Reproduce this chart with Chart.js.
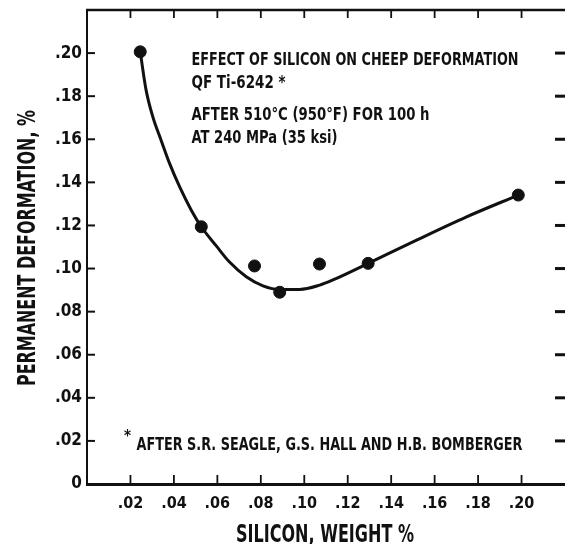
<!DOCTYPE html>
<html>
<head>
<meta charset="utf-8">
<script src="https://cdn.jsdelivr.net/npm/chart.js@4"></script>
<style>
  html, body { margin: 0; padding: 0; background: #fff; }
  #wrap { width: 565px; height: 544px; }
</style>
</head>
<body>
<div id="wrap"><canvas id="c" width="565" height="544"></canvas></div>
<script>
// ---- data ----
const siliconPct = [0.0245, 0.0526, 0.0771, 0.0887, 0.1070, 0.1294, 0.1985];
const deformationPct = [0.2006, 0.1194, 0.1012, 0.0890, 0.1021, 0.1024, 0.1341];

const curveSilicon = [0.0245, 0.0272, 0.0303, 0.0341, 0.0380, 0.0426, 0.0480, 0.0526, 0.0595, 0.0656,
                      0.0733, 0.0810, 0.0887, 0.0979, 0.1071, 0.1132, 0.1294, 0.1517, 0.1747, 0.1985];
const curveDeformation = [0.2006, 0.1828, 0.1704, 0.1596, 0.1488, 0.1380, 0.1271, 0.1194, 0.1105, 0.1030,
                          0.0962, 0.0920, 0.0903, 0.0903, 0.0923, 0.0947, 0.1024, 0.1132, 0.1240, 0.1341];

const xTickValues = [0.02, 0.04, 0.06, 0.08, 0.10, 0.12, 0.14, 0.16, 0.18, 0.20];
const xTickLabels = ['.02', '.04', '.06', '.08', '.10', '.12', '.14', '.16', '.18', '.20'];
const yTickValues = [0, 0.02, 0.04, 0.06, 0.08, 0.10, 0.12, 0.14, 0.16, 0.18, 0.20];
const yTickLabels = ['0', '.02', '.04', '.06', '.08', '.10', '.12', '.14', '.16', '.18', '.20'];

const xTitle = 'SILICON, WEIGHT %';
const yTitle = 'PERMANENT DEFORMATION, %';
const noteLines = [
  'EFFECT OF SILICON ON CHEEP DEFORMATION',
  'QF Ti-6242 *',
  'AFTER 510°C (950°F) FOR 100 h',
  'AT 240 MPa (35 ksi)'
];
const footnote = 'AFTER S.R. SEAGLE, G.S. HALL AND H.B. BOMBERGER';

// ---- helpers ----
const INK = '#111';
function fitText(ctx, text, x, y, cap, width, rot) {
  const size = cap / 0.73;
  ctx.save();
  ctx.font = 'bold ' + size + 'px "DejaVu Sans"';
  ctx.fillStyle = INK;
  ctx.textBaseline = 'alphabetic';
  ctx.textAlign = 'left';
  const w = ctx.measureText(text).width;
  ctx.translate(x, y);
  if (rot) ctx.rotate(rot);
  ctx.scale(width / w, 1);
  ctx.fillText(text, 0, 0);
  ctx.restore();
}

const framePlugin = {
  id: 'frame',
  afterDraw(chart) {
    const ctx = chart.ctx;
    const a = chart.chartArea;
    const xs = chart.scales.x, ys = chart.scales.y;
    ctx.save();
    ctx.strokeStyle = INK;
    ctx.lineCap = 'butt';
    // top border
    ctx.lineWidth = 2.5;
    ctx.beginPath(); ctx.moveTo(a.left - 1, a.top); ctx.lineTo(a.right, a.top); ctx.stroke();
    // x ticks (inward, bottom and top)
    ctx.lineWidth = 1.8;
    xTickValues.forEach(v => {
      const px = xs.getPixelForValue(v);
      ctx.beginPath(); ctx.moveTo(px, a.bottom); ctx.lineTo(px, a.bottom - 9); ctx.stroke();
      ctx.beginPath(); ctx.moveTo(px, a.top); ctx.lineTo(px, a.top + 8); ctx.stroke();
    });
    // y ticks (inward, left and right)
    yTickValues.forEach(v => {
      if (v === 0) return;
      const py = ys.getPixelForValue(v);
      ctx.lineWidth = 2;
      ctx.beginPath(); ctx.moveTo(a.left, py); ctx.lineTo(a.left + 8, py); ctx.stroke();
      ctx.lineWidth = 3;
      ctx.beginPath(); ctx.moveTo(a.right - 10, py); ctx.lineTo(a.right, py); ctx.stroke();
    });
    ctx.restore();

    // annotation block
    fitText(ctx, noteLines[0], 191.5, 65, 13.3, 327);
    fitText(ctx, noteLines[1], 191.5, 88, 13, 94);
    fitText(ctx, noteLines[2], 191.5, 120, 13.3, 238);
    fitText(ctx, noteLines[3], 191.5, 143, 13, 146);
    // footnote
    fitText(ctx, '*', 124, 441, 12, 7);
    fitText(ctx, footnote, 136.5, 449.5, 12.6, 386);
    // axis titles
    fitText(ctx, xTitle, 236, 541.5, 18.5, 178);
    fitText(ctx, yTitle, 34.5, 386, 17.6, 276, -Math.PI / 2);
  }
};

const tickFont = { family: '"DejaVu Sans Condensed", "DejaVu Sans", sans-serif', weight: 'bold' };

new Chart(document.getElementById('c'), {
  type: 'scatter',
  data: {
    datasets: [
      {
        type: 'line',
        data: curveSilicon.map((x, i) => ({ x, y: curveDeformation[i] })),
        borderColor: INK,
        borderWidth: 3,
        pointRadius: 0,
        fill: false,
        cubicInterpolationMode: 'monotone'
      },
      {
        type: 'scatter',
        data: siliconPct.map((x, i) => ({ x, y: deformationPct[i] })),
        backgroundColor: INK,
        borderColor: INK,
        pointRadius: 6,
        pointHoverRadius: 6
      }
    ]
  },
  options: {
    responsive: false,
    animation: false,
    devicePixelRatio: 1,
    layout: { autoPadding: false, padding: { top: 10, right: 0, left: 0, bottom: 0 } },
    plugins: { legend: { display: false }, tooltip: { enabled: false }, title: { display: false } },
    scales: {
      x: {
        type: 'linear', position: 'bottom', min: 0, max: 0.22,
        afterBuildTicks: s => { s.ticks = xTickValues.map(v => ({ value: v })); },
        afterFit: s => { s.height = 60; s.paddingLeft = 0; s.paddingRight = 0; },
        grid: { display: false, drawTicks: false },
        border: { display: true, color: INK, width: 3 },
        ticks: {
          color: INK, padding: 10, autoSkip: false, maxRotation: 0,
          font: Object.assign({ size: 16 }, tickFont),
          callback: (v, i) => xTickLabels[i]
        }
      },
      y: {
        type: 'linear', position: 'left', min: 0, max: 0.22,
        afterBuildTicks: s => { s.ticks = yTickValues.map(v => ({ value: v })); },
        afterFit: s => { s.width = 87; s.paddingTop = 0; s.paddingBottom = 0; },
        grid: { display: false, drawTicks: false },
        border: { display: true, color: INK, width: 2 },
        ticks: {
          color: INK, padding: 5, autoSkip: false,
          font: Object.assign({ size: 17 }, tickFont),
          callback: (v, i) => yTickLabels[i]
        }
      }
    }
  },
  plugins: [framePlugin]
});
</script>
</body>
</html>
